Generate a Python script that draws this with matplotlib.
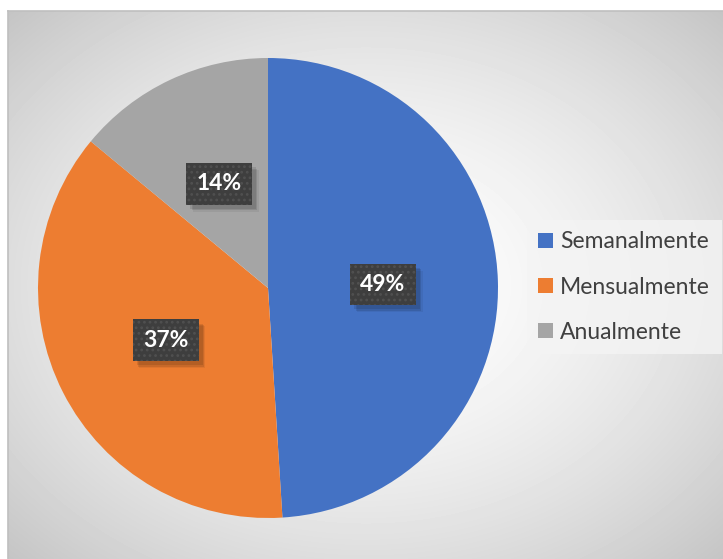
import numpy as np
import matplotlib.pyplot as plt
from matplotlib import patheffects as pe

categorias = ['Semanalmente', 'Mensualmente', 'Anualmente']
porcentajes = [49, 37, 14]
colores = ['#4472c4', '#ed7d31', '#a5a5a5']

plt.rcParams['hatch.linewidth'] = 1.2


class Sombra(pe.AbstractPathEffect):
    # sombra sin trama (la de matplotlib copia el hatch)
    def __init__(self, offset=(4, -4), alpha=0.1):
        super().__init__(offset)
        self.alpha = alpha

    def draw_path(self, renderer, gc, tpath, affine, rgbFace=None):
        gc0 = renderer.new_gc()
        gc0.copy_properties(gc)
        gc0.set_hatch(None)
        gc0.set_linewidth(0)
        gc0.set_alpha(self.alpha)
        renderer.draw_path(gc0, tpath, affine + self._offset_transform(renderer), (0, 0, 0))
        gc0.restore()


W, H = 723, 559
fig = plt.figure(figsize=(W / 100, H / 100), dpi=100)
fig.patch.set_facecolor('white')

# fondo con degradado radial (estilo Excel)
bg = fig.add_axes([8 / W, 0, (W - 8) / W, (H - 11) / H])
yy, xx = np.mgrid[0:H - 11, 0:W - 8]
cx, cy = (W - 8) / 2, (H - 11) / 2
d = np.sqrt(((xx - cx) / cx) ** 2 + ((yy - cy) / cy) ** 2) / np.sqrt(2)
g = 1 - 0.23 * np.clip(d, 0, 1) ** 1.6
bg.imshow(g, cmap='gray', vmin=0, vmax=1, aspect='auto', interpolation='bilinear')
bg.set_xticks([])
bg.set_yticks([])
for s in ['right', 'bottom']:
    bg.spines[s].set_visible(False)
for s in ['left', 'top']:
    bg.spines[s].set_color('#bfbfbf')
    bg.spines[s].set_linewidth(1.2)

# pastel
r = 230
ax = fig.add_axes([(268 - r) / W, (H - 288 - r) / H, 2 * r / W, 2 * r / H])
fuente = dict(color='white', fontsize=16.5, fontweight='bold', family=['Lato', 'DejaVu Sans'])
wedges, texts, autotexts = ax.pie(
    porcentajes, colors=colores, startangle=90, counterclock=False,
    autopct='%d%%', pctdistance=0.5, radius=1,
    wedgeprops=dict(linewidth=0), textprops=fuente)
ax.set_xlim(-1, 1)
ax.set_ylim(-1, 1)
ax.set_aspect('equal')
ax.axis('off')

for t in autotexts:
    t.set_bbox(dict(boxstyle='square,pad=0.45', facecolor='#3e3e3e', edgecolor='#505050',
                    linewidth=0, hatch='...'))
    t.get_bbox_patch().set_path_effects([Sombra((5, -5), 0.06), Sombra((4, -4), 0.1),
                                         Sombra((3, -3), 0.1), pe.Normal()])

leg = fig.legend(wedges, categorias, loc='center left', bbox_to_anchor=(527 / W, 1 - 287 / H),
                 frameon=True, fancybox=False, handlelength=0.65, handleheight=0.65,
                 handletextpad=0.3, labelspacing=1.05, borderpad=0.5, borderaxespad=0,
                 prop=dict(family=['Lato', 'DejaVu Sans'], size=16.5))
leg.get_frame().set_facecolor('#f4f4f4')
leg.get_frame().set_edgecolor('none')
leg.get_frame().set_alpha(0.8)
for t in leg.get_texts():
    t.set_color('#404040')

fig.savefig('out.png', dpi=100)
